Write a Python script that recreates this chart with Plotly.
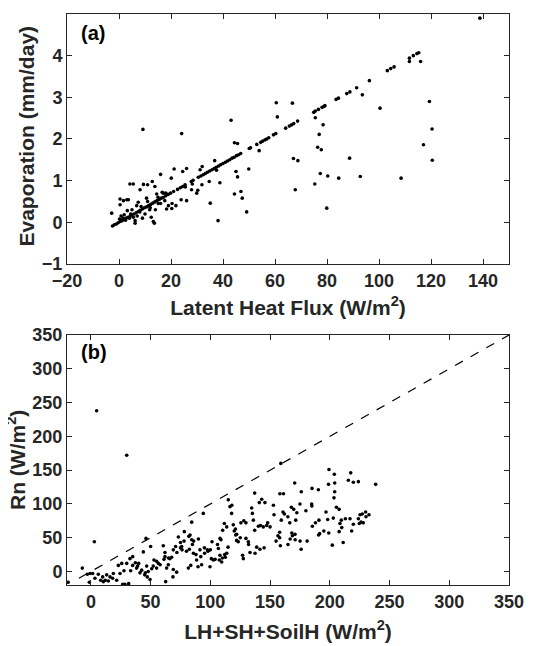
import plotly.graph_objects as go
from plotly.subplots import make_subplots

# ---------------- Panel (a): Latent heat flux vs evaporation ----------------
lh_line = [-2.5, -1.8, -1.0, -0.3, 0.5, 1.2, 2.0, 2.8, 3.5, 4.3, 5.0, 5.8, 6.6, 7.4, 8.1, 9.0, 9.8,
           10.6, 11.4, 12.2, 13.0, 13.8, 14.6, 15.5, 16.3, 17.1, 18.0, 18.9, 19.8, 21.0, 22.5, 23.6,
           24.5, 25.4, 27.8, 28.5, 30.5, 31.5, 32.4, 33.2, 34.0, 34.9, 35.8, 36.6, 37.4, 38.3, 39.1,
           40.0, 40.9, 41.7, 42.6, 43.5, 44.3, 45.2, 46.0, 46.8,
           50.1, 50.6, 53.0, 54.5, 55.3, 56.2, 56.8, 57.6, 59.4, 60.3, 64.1, 65.5, 66.4, 67.2, 68.7,
           74.9, 75.5, 76.7, 78.1, 78.8, 79.2, 83.5, 84.4, 87.6, 88.8, 91.4, 96.3, 103.2, 104.5,
           105.8, 111.7, 113.2, 114.6, 115.3, 138.8]
ev_line = [-0.09, -0.06, -0.04, -0.01, 0.02, 0.04, 0.07, 0.10, 0.12, 0.15, 0.18, 0.20, 0.23, 0.26,
           0.29, 0.32, 0.35, 0.37, 0.40, 0.43, 0.46, 0.49, 0.52, 0.55, 0.58, 0.60, 0.64, 0.67, 0.70,
           0.74, 0.79, 0.83, 0.86, 0.90, 0.98, 1.01, 1.08, 1.11, 1.14, 1.17, 1.20, 1.23, 1.26, 1.29,
           1.32, 1.35, 1.38, 1.41, 1.44, 1.47, 1.50, 1.54, 1.56, 1.60, 1.62, 1.65,
           1.77, 1.79, 1.87, 1.92, 1.95, 1.98, 2.00, 2.03, 2.10, 2.13, 2.26, 2.31, 2.34, 2.37, 2.43,
           2.64, 2.67, 2.71, 2.76, 2.78, 2.80, 2.95, 2.98, 3.09, 3.13, 3.23, 3.40, 3.64, 3.69,
           3.73, 3.94, 4.00, 4.05, 4.07, 4.90]

lh_scatter = [0.4, 0.4, 3.0, 1.7, 3.6, 4.2, 5.5, 9.4, 9.2, 8.1, 7.4, 8.5, 6.2, 6.2, 5.5, 4.5, 2.5,
              1.5, 0.8, 0.2, 3.2, 6.8, 10.6, 11.0, 12.8, 13.8, 13.2, 13.6, 12.4, 11.8, 14.5, 15.1,
              16.0, 16.6, 17.6, 18.3, 18.0, 20.1, 20.3, 20.4, 21.2, 21.9, 23.9, 24.1, 24.5, 26.0,
              26.0, 25.5, 27.9, 28.2, 29.9, 30.3, 31.2, 31.9, 32.0, 34.7, 35.1, 36.8, 37.5, 38.1,
              38.8, 43.1, 44.4, 45.6, 44.4, 45.0, 45.6, 46.9, 47.4, 49.1, 49.9, 53.9, 60.5, 60.9,
              66.7, 67.1, 68.8, 67.8, 75.5, 76.4, 77.8, 77.0, 78.5, 75.3, 77.4, 79.9, 80.3, 84.5,
              88.7, 92.8, 93.6, 100.4, 108.5, 117.1, 119.4, 120.4, 120.5, 116.0, 111.7, -2.8,
              2.0, 4.0, 5.0, 7.0, 8.0, 9.0, 10.0, 11.0, 12.0, 14.0, 15.0, 16.0, 17.0, 19.0]
ev_scatter = [0.56, 0.42, 0.54, 0.52, 0.54, 0.92, 0.92, 0.91, 2.23, 0.78, 0.48, 0.38, 0.04, -0.02,
              0.12, 0.20, 0.05, 0.10, 0.15, 0.08, 0.28, 0.40, 0.58, 0.90, 0.98, 0.86, 0.02, -0.02,
              0.12, 0.30, 0.68, 0.45, 1.15, 0.72, 0.52, 0.32, 0.70, 1.06, 0.33, 0.45, 1.28, 0.40,
              0.54, 2.13, 1.22, 1.29, 0.52, 0.85, 0.78, 0.92, 0.70, 0.77, 1.26, 0.90, 1.34, 0.98,
              0.46, 1.48, 1.25, 0.04, 0.95, 2.45, 1.91, 1.89, 0.68, 1.22, 1.09, 0.74, 0.58, 0.25,
              1.28, 1.72, 2.87, 2.53, 2.86, 1.53, 1.48, 0.78, 2.51, 1.80, 1.74, 2.11, 2.34, 0.92,
              1.17, 0.34, 1.11, 1.06, 1.54, 1.10, 3.06, 2.74, 1.06, 1.86, 2.90, 2.24, 1.49, 3.86,
              3.86, 0.22, 0.18, 0.10, 0.30, 0.15, 0.25, 0.10, 0.20, 0.50, 0.35, 0.30, 0.60, 0.45,
              0.70, 0.40]

# ---------------- Panel (b): energy balance ----------------
flux_sum = [4.8, 30.0, 2.9, -7.2, -19.0, -1.3, 159.0, 199.3, 203.8, 217.5, 215.5, 219.7, 223.9,
            238.4, 170.6, 185.1, 190.4, 176.1, 198.9, 204.1, 204.1, 203.5, 205.5, 207.8, 202.9,
            209.6, 208.5, 207.8, 211.2, 202.1, 216.9, 219.7, 218.3, 223.9, 224.7, 225.3, 227.2,
            230.3, 232.8, 226.1, 198.2, 199.1, 184.8, 185.0, 190.6, 191.5, 196.8, 185.4, 190.9,
            181.0, 175.1, 176.0, 172.4, 171.5, 170.9, 169.8, 167.8, 166.5, 168.2, 168.7, 166.8,
            171.0, 164.9, 161.2, 158.2, 160.8, 159.4, 158.0, 158.0, 156.6, 158.6, 153.3, 152.8,
            144.3, 147.1, 150.0, 145.7, 143.0, 141.0, 137.1, 135.2, 134.6, 136.0, 140.2, 137.1,
            141.5, 138.8, 137.4, 129.8, 125.6, 129.8, 131.8, 133.2, 127.0, 127.6, 122.0, 123.4,
            117.8, 116.4, 115.0, 119.2, 121.0, 121.2, 122.0, 113.7, 111.7, 110.3, 114.8, 113.7,
            112.5, 108.9, 108.1, 106.7, 108.0, 107.5, 109.5, 101.4, 100.8, 99.7, 102.5, 97.5,
            95.2, 94.1, 91.3, 88.5, 89.7, 92.7, 85.8, 84.4, 84.4, 83.0, 82.4, 83.6, 81.6, 78.2,
            76.0, 76.3, 75.0, 73.2, 70.9, 69.0, 67.6, 69.0, 71.8, 68.7, 66.1, 64.8, 63.4, 62.0,
            61.2, 60.6, 62.6, 56.5, 55.0, 52.8, 52.2, 50.9, 50.0, 46.1, 43.9, 46.7, 45.6, 47.2,
            49.5, 42.5, 41.1, 38.3, 39.1, 37.2, 35.0, 33.3, 32.7, 35.0, 30.0, 27.7, 24.4, 25.8,
            23.0, 21.6, 26.6, 28.5, 31.6, 18.8, 18.2, 16.0, 13.2, 12.1, 9.9, 8.2, 6.2, 3.4, 1.5,
            -0.7, -3.0, 10.4, 14.6,
            80.0, 85.0, 88.0, 92.0, 95.0, 98.0, 100.0, 104.0, 106.0, 110.0, 112.0, 65.0, 72.0,
            75.0, 58.0, 55.0, 62.0, 48.0, 45.0, 40.0, 86.0, 90.0, 78.0, 82.0, 118.0, 120.0,
            125.0, 128.0, 132.0, 142.0, 145.0, 148.0, 155.0, 162.0, 165.0, 175.0, 180.0, 188.0,
            195.0, 210.0, 213.0, 228.0, 230.0]
rn = [238, 172, 44, 5, -16, -16, 160, 151, 144, 146, 135, 132, 133, 129, 131, 123, 121, 118, 129,
      131, 118, 109, 95, 92, 79, 76, 71, 59, 43, 39, 78, 70, 60, 78, 71, 84, 85, 81, 84, 73, 77,
      57, 100, 97, 54, 56, 88, 67, 76, 45, 45, 33, 87, 76, 55, 92, 95, 72, 57, 53, 48, 47, 81,
      115, 115, 88, 76, 58, 50, 53, 38, 84, 98, 66, 68, 66, 102, 107, 102, 116, 86, 94, 76, 67,
      61, 33, 36, 27, 72, 72, 49, 44, 28, 24, 19, 55, 44, 86, 96, 106, 69, 63, 54, 46, 66, 71,
      61, 36, 27, 21, 47, 49, 34, 24, 17, 14, 44, 19, 7, 17, 32, 27, 86, 32, 17, 7, 10, 27, 73,
      47, 54, 33, 9, 5, 59, 37, 32, 43, 51, 37, 32, 21, 3, -1, -8, 19, 10, 5, 22, 18, 38, -15,
      12, 5, 17, 8, 4, 37, 49, 29, 8, -2, -8, -12, 2, -2, 5, 8, 13, 9, 1, 19, 22, 12, 1, -3, 12,
      9, -13, -19, -19, -18, -3, -10, -8, -5, -13, -8, -13, -4, -10, -3, -3, -4, -15, -14,
      30, 40, 25, 22, 35, 30, 32, 18, 40, 20, 25, 20, 28, 35, 10, 15, 28, 0, -5, 12, 45, 48, 45,
      52, 98, 60, 50, 75, 40, 68, 35, 72, 45, 85, 40, 100, 90, 72, 60, 65, 78, 72, 88]

one_to_one = [-10, 350]

# ---------------- Figure ----------------
FONT = "Liberation Sans, Arial, sans-serif"
TICKCOL = "#262626"

fig = make_subplots(rows=2, cols=1, vertical_spacing=0.1244)

pt = dict(mode="markers", marker=dict(size=3.6, color="black"), showlegend=False,
          hoverinfo="x+y")
fig.add_trace(go.Scatter(x=lh_line, y=ev_line, **pt), row=1, col=1)
fig.add_trace(go.Scatter(x=lh_scatter, y=ev_scatter, **pt), row=1, col=1)
fig.add_trace(go.Scatter(x=one_to_one, y=one_to_one, mode="lines",
                         line=dict(color="black", width=1.2, dash="dash"),
                         showlegend=False, hoverinfo="skip"), row=2, col=1)
fig.add_trace(go.Scatter(x=flux_sum, y=rn, **pt), row=2, col=1)

axis_common = dict(showgrid=False, zeroline=False, showline=True, linecolor=TICKCOL,
                   linewidth=1, mirror="allticks", ticks="inside", ticklen=5,
                   tickcolor=TICKCOL, tickwidth=1, automargin=False,
                   tickfont=dict(family=FONT, size=18, color=TICKCOL, weight="bold"))
title_font = dict(family=FONT, size=21, color=TICKCOL, weight="bold")

fig.update_xaxes(axis_common)
fig.update_yaxes(axis_common)

fig.update_xaxes(range=[-20, 150], tickvals=[-20, 0, 20, 40, 60, 80, 100, 120, 140],
                 title=dict(text="Latent Heat Flux (W/m<sup>2</sup>)", font=title_font, standoff=10),
                 row=1, col=1)
fig.update_yaxes(range=[-1, 5], tickvals=[-1, 0, 1, 2, 3, 4, 5], row=1, col=1)
fig.update_xaxes(range=[-20, 350], tickvals=[0, 50, 100, 150, 200, 250, 300, 350],
                 title=dict(text="LH+SH+SoilH (W/m<sup>2</sup>)", font=title_font, standoff=13),
                 row=2, col=1)
fig.update_yaxes(range=[-20, 350], tickvals=[0, 50, 100, 150, 200, 250, 300, 350],
                 row=2, col=1)

# y-axis titles as rotated annotations (so they can sit at the figure's left edge)
fig.add_annotation(text="Evaporation (mm/day)", xref="paper", yref="y domain",
                   x=-27 / 442, y=0.512, xanchor="right", yanchor="middle", textangle=-90,
                   showarrow=False, font=title_font)
fig.add_annotation(text="Rn (W/m<sup>2</sup>)", xref="paper", yref="y2 domain",
                   x=-36 / 442, y=0.5, xanchor="right", yanchor="middle", textangle=-90,
                   showarrow=False, font=title_font)

fig.add_annotation(text="(a)", xref="x domain", yref="y domain", x=0.027, y=0.924,
                   xanchor="left", yanchor="middle", showarrow=False,
                   font=dict(family=FONT, size=20, color="black", weight="bold"))
fig.add_annotation(text="(b)", xref="x2 domain", yref="y2 domain", x=0.027, y=0.932,
                   xanchor="left", yanchor="middle", showarrow=False,
                   font=dict(family=FONT, size=20, color="black", weight="bold"))

# the page body adds an 8px offset, so margins are shifted accordingly
fig.update_layout(width=537, height=646, margin=dict(l=59, r=36, t=6, b=69),
                  paper_bgcolor="white", plot_bgcolor="white",
                  font=dict(family=FONT, color=TICKCOL))

fig.write_html("out.html")
